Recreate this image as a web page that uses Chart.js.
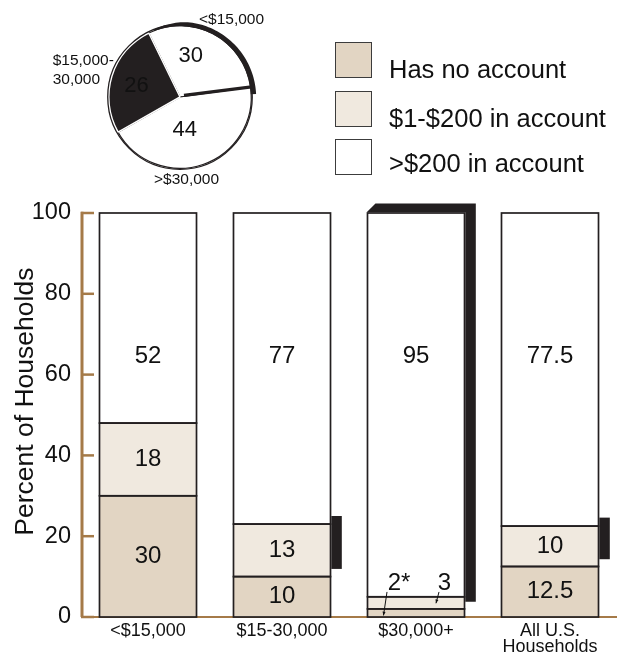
<!DOCTYPE html>
<html><head><meta charset="utf-8">
<script src="https://cdn.jsdelivr.net/npm/chart.js@4/dist/chart.umd.min.js"></script>
<style>
html,body{margin:0;padding:0;background:#fff;}
#wrap{position:relative;width:617px;height:652px;overflow:hidden;font-family:"Liberation Sans",Arial,sans-serif;color:#111;}
#bar{position:absolute;left:0;top:0;}
#pie{position:absolute;left:100px;top:17px;}
.lg{position:absolute;left:335px;width:37px;height:36px;box-sizing:border-box;border:1.5px solid #3c3c3c;}
.lt{position:absolute;left:389px;font-size:25.5px;line-height:1;white-space:nowrap;}
.pl{position:absolute;font-size:15.5px;line-height:1;white-space:nowrap;}
</style></head>
<body><div id="wrap">
<canvas id="bar" width="617" height="652"></canvas>
<canvas id="pie" width="160" height="160"></canvas>
<div id="legend"></div>
<div id="pienames"></div>
</div>
<script>
// ---- data ----
const categories = ['<$15,000', '$15-30,000', '$30,000+', ['All U.S.', 'Households']];
const noAccount = [30, 10, 2, 12.5];
const lowBalance = [18, 13, 3, 10];
const highBalance = [52, 77, 95, 77.5];
const noAccountText = ['30', '10', '2*', '12.5'];
const lowBalanceText = ['18', '13', '3', '10'];
const highBalanceText = ['52', '77', '95', '77.5'];
const seriesNames = ['Has no account', '$1-$200 in account', '>$200 in account'];
const yTicks = [0, 20, 40, 60, 80, 100];
const pieNames = ['<$15,000', '>$30,000', '$15,000-\n30,000'];
const pieValues = [30, 44, 26];

// ---- styles ----
const FONT = "'Liberation Sans', Arial, sans-serif";
const INK = '#231f20';
const BROWN = '#a57a48';
const seriesColors = ['#e2d5c3', '#f0e9df', '#ffffff'];
Chart.defaults.font.family = FONT;
Chart.defaults.color = '#111';

// legend (HTML text)
const legendTops = [42, 91, 139];
const legendTextTops = [56.5, 105.5, 150.5];
let lg = '';
seriesNames.forEach((n, i) => {
  lg += `<div class="lg" style="top:${legendTops[i]}px;background:${seriesColors[i]}"></div>`;
  lg += `<div class="lt" style="top:${legendTextTops[i]}px"></div>`;
});
document.getElementById('legend').innerHTML = lg;
document.querySelectorAll('#legend .lt').forEach((d, i) => d.textContent = seriesNames[i]);

// pie outside names
const pieNamePos = [[199, 11], [154, 171], [52.7, 52]];
const pn = document.getElementById('pienames');
pieNames.forEach((n, i) => {
  n.split('\n').forEach((line, k) => {
    const d = document.createElement('div');
    d.className = 'pl';
    d.style.left = pieNamePos[i][0] + 'px';
    d.style.top = (pieNamePos[i][1] + k * 19) + 'px';
    d.textContent = line;
    pn.appendChild(d);
  });
});

// ---- bar chart plugins ----
const axisPlugin = {
  id: 'axisDecor',
  beforeDatasetsDraw(chart) {
    const {ctx, chartArea: a, scales: {y}} = chart;
    ctx.save();
    ctx.strokeStyle = BROWN;
    ctx.lineWidth = 3;
    ctx.beginPath();
    ctx.moveTo(a.left + 1, y.getPixelForValue(100) - 1.2);
    ctx.lineTo(a.left + 1, y.getPixelForValue(0));
    ctx.stroke();
    ctx.lineWidth = 2.5;
    yTicks.forEach(v => {
      const py = y.getPixelForValue(v);
      ctx.beginPath();
      ctx.moveTo(a.left, py);
      ctx.lineTo(a.left + 13, py);
      ctx.stroke();
    });
    ctx.lineWidth = 2.2;
    ctx.beginPath();
    ctx.moveTo(a.left, y.getPixelForValue(0));
    ctx.lineTo(a.right, y.getPixelForValue(0));
    ctx.stroke();
    // y title
    ctx.fillStyle = '#111';
    ctx.font = '26.5px ' + FONT;
    ctx.textAlign = 'center';
    ctx.textBaseline = 'alphabetic';
    ctx.translate(33, y.getPixelForValue(53.3));
    ctx.rotate(-Math.PI / 2);
    ctx.fillText('Percent of Households', 0, 0);
    ctx.restore();
  }
};

// outlines of every bar segment (single shared edge lines)
const outlinePlugin = {
  id: 'outlines',
  afterDatasetsDraw(chart) {
    const ctx = chart.ctx;
    ctx.save();
    ctx.strokeStyle = INK;
    ctx.lineWidth = 1.7;
    chart.data.datasets.forEach((ds, di) => {
      chart.getDatasetMeta(di).data.forEach(el => {
        const l = el.x - el.width / 2;
        ctx.strokeRect(l, Math.min(el.y, el.base), el.width, Math.abs(el.base - el.y));
      });
    });
    ctx.restore();
  }
};

// dark side shadows [from, to] in axis units, per bar
const shadowSpans = [null, [11.9, 25], [3.8, 100], [14.3, 24.6]];
const shadowPlugin = {
  id: 'shadows',
  afterDatasetsDraw(chart) {
    const {ctx, scales: {y}} = chart;
    const meta = chart.getDatasetMeta(2);
    ctx.save();
    ctx.fillStyle = INK;
    shadowSpans.forEach((sp, i) => {
      if (!sp) return;
      const el = meta.data[i];
      const l = el.x - el.width / 2, r = el.x + el.width / 2 + 0.8;
      const yb = y.getPixelForValue(sp[0]), yt = y.getPixelForValue(sp[1]);
      const w = 10.5;
      ctx.beginPath();
      if (sp[1] >= 100) {
        const d = 9.5;
        ctx.moveTo(l - 0.8, yt - 0.8);
        ctx.lineTo(l + 8, yt - d);
        ctx.lineTo(r + w, yt - d);
        ctx.lineTo(r + w, yb);
        ctx.lineTo(r, yb);
        ctx.lineTo(r, yt - 0.8);
      } else {
        ctx.rect(r, yt, w, yb - yt);
      }
      ctx.closePath();
      ctx.fill();
    });
    ctx.restore();
  }
};

const segTexts = [noAccountText, lowBalanceText, highBalanceText];
const topLabelLevel = 64.6;
const calloutBar = 2;
function arrow(ctx, x1, y1, x2, y2) {
  ctx.beginPath(); ctx.moveTo(x1, y1); ctx.lineTo(x2, y2); ctx.stroke();
  const ang = Math.atan2(y2 - y1, x2 - x1), s = 4;
  ctx.beginPath();
  ctx.moveTo(x2, y2);
  ctx.lineTo(x2 - s * Math.cos(ang - 0.4), y2 - s * Math.sin(ang - 0.4));
  ctx.lineTo(x2 - s * Math.cos(ang + 0.4), y2 - s * Math.sin(ang + 0.4));
  ctx.closePath(); ctx.fill();
}
const valuePlugin = {
  id: 'values',
  afterDatasetsDraw(chart) {
    const {ctx, scales: {y}} = chart;
    ctx.save();
    ctx.fillStyle = '#111';
    ctx.strokeStyle = '#111';
    ctx.font = '24px ' + FONT;
    ctx.textAlign = 'center';
    ctx.textBaseline = 'middle';
    chart.data.datasets.forEach((ds, di) => {
      const meta = chart.getDatasetMeta(di);
      meta.data.forEach((el, i) => {
        if (i === calloutBar && di < 2) return;
        const py = di === 2 ? y.getPixelForValue(topLabelLevel) : (el.y + el.base) / 2;
        ctx.fillText(segTexts[di][i], el.x, py);
      });
    });
    // callouts for the thin segments
    const el = chart.getDatasetMeta(0).data[calloutBar];
    const ty = y.getPixelForValue(8.4);
    ctx.fillText(segTexts[0][calloutBar], el.x - 17, ty);
    ctx.fillText(segTexts[1][calloutBar], el.x + 28.5, ty);
    ctx.lineWidth = 1;
    arrow(ctx, el.x - 29, y.getPixelForValue(6.2), el.x - 32.5, y.getPixelForValue(0.4));
    arrow(ctx, el.x + 23, y.getPixelForValue(6.2), el.x + 20, y.getPixelForValue(3.4));
    ctx.restore();
  }
};

const mkSet = (label, data, i) => ({
  label, data, backgroundColor: seriesColors[i], borderWidth: 0,
  inflateAmount: 0, barPercentage: 0.724, categoryPercentage: 1
});

new Chart(document.getElementById('bar'), {
  type: 'bar',
  data: {
    labels: categories,
    datasets: [mkSet(seriesNames[0], noAccount, 0), mkSet(seriesNames[1], lowBalance, 1), mkSet(seriesNames[2], highBalance, 2)]
  },
  options: {
    responsive: false, animation: false, devicePixelRatio: 1,
    layout: {padding: {top: 213, left: 0, right: 0, bottom: 0}},
    plugins: {legend: {display: false}, tooltip: {enabled: false}},
    scales: {
      x: {
        stacked: true,
        grid: {display: false, drawTicks: false}, border: {display: false},
        ticks: {padding: 6.5, color: '#111', font: {size: 18, lineHeight: 0.89}, maxRotation: 0, autoSkip: false},
        afterFit(s) { s.height = 35; }
      },
      y: {
        stacked: true, min: 0, max: 100,
        afterBuildTicks(s) { s.ticks = yTicks.map(v => ({value: v})); },
        grid: {display: false, drawTicks: false}, border: {display: false},
        ticks: {padding: 10, color: '#111', font: {size: 23.5}},
        afterFit(s) { s.width = 81; }
      }
    }
  },
  plugins: [axisPlugin, outlinePlugin, shadowPlugin, valuePlugin]
});

// ---- pie ----
const pieLabelTweak = [[-13.5, 0.60], [10.5, 0.47], [-2.7, 0.63]];
const pieDecor = {
  id: 'pieDecor',
  afterDatasetsDraw(chart) {
    const ctx = chart.ctx;
    const arcs = chart.getDatasetMeta(0).data;
    const a0 = arcs[0];
    const cx = a0.x, cy = a0.y, R = a0.outerRadius;
    ctx.save();
    ctx.strokeStyle = INK; ctx.fillStyle = INK;
    ctx.lineWidth = 1.3;
    ctx.beginPath(); ctx.arc(cx, cy, R + 1, 0, Math.PI * 2); ctx.stroke();
    // crescent shadow along the outer edge of the first slice
    const s = a0.startAngle + 0.08, e = a0.endAngle + 0.1, N = 60;
    ctx.beginPath();
    for (let k = 0; k <= N; k++) {
      const t = s + (e - s) * k / N;
      const f = k / N;
      const w = 0.6 + 2.6 * Math.min(1, f / 0.25) + 1.2 * f;
      const rr = R + 0.5 + w;
      k === 0 ? ctx.moveTo(cx + rr * Math.cos(t), cy + rr * Math.sin(t)) : ctx.lineTo(cx + rr * Math.cos(t), cy + rr * Math.sin(t));
    }
    for (let k = N; k >= 0; k--) {
      const t = s + (e - s) * k / N;
      ctx.lineTo(cx + (R - 0.5) * Math.cos(t), cy + (R - 0.5) * Math.sin(t));
    }
    ctx.closePath(); ctx.fill();
    // thick edge line between first and second slice
    ctx.lineWidth = 3.2;
    ctx.beginPath();
    ctx.moveTo(cx + 4 * Math.cos(a0.endAngle), cy + 4 * Math.sin(a0.endAngle) - 1);
    ctx.lineTo(cx + (R + 1) * Math.cos(a0.endAngle), cy + (R + 1) * Math.sin(a0.endAngle));
    ctx.stroke();
    // values
    ctx.font = '22px ' + FONT;
    ctx.textAlign = 'center'; ctx.textBaseline = 'middle';
    arcs.forEach((a, i) => {
      const mid = (a.startAngle + a.endAngle) / 2 + pieLabelTweak[i][0] * Math.PI / 180;
      const r = R * pieLabelTweak[i][1];
      ctx.fillStyle = '#111';
      ctx.fillText(String(pieValues[i]), cx + r * Math.cos(mid), cy + r * Math.sin(mid));
    });
    ctx.restore();
  }
};
new Chart(document.getElementById('pie'), {
  type: 'pie',
  data: {
    labels: pieNames,
    datasets: [{
      data: pieValues,
      backgroundColor: ['#ffffff', '#ffffff', INK],
      borderColor: [INK, INK, '#ffffff'],
      borderWidth: [1.2, 1.2, 1.5]
    }]
  },
  options: {
    responsive: false, animation: false, devicePixelRatio: 1,
    rotation: -26,
    layout: {padding: 8},
    plugins: {legend: {display: false}, tooltip: {enabled: false}}
  },
  plugins: [pieDecor]
});
</script>
</body></html>
